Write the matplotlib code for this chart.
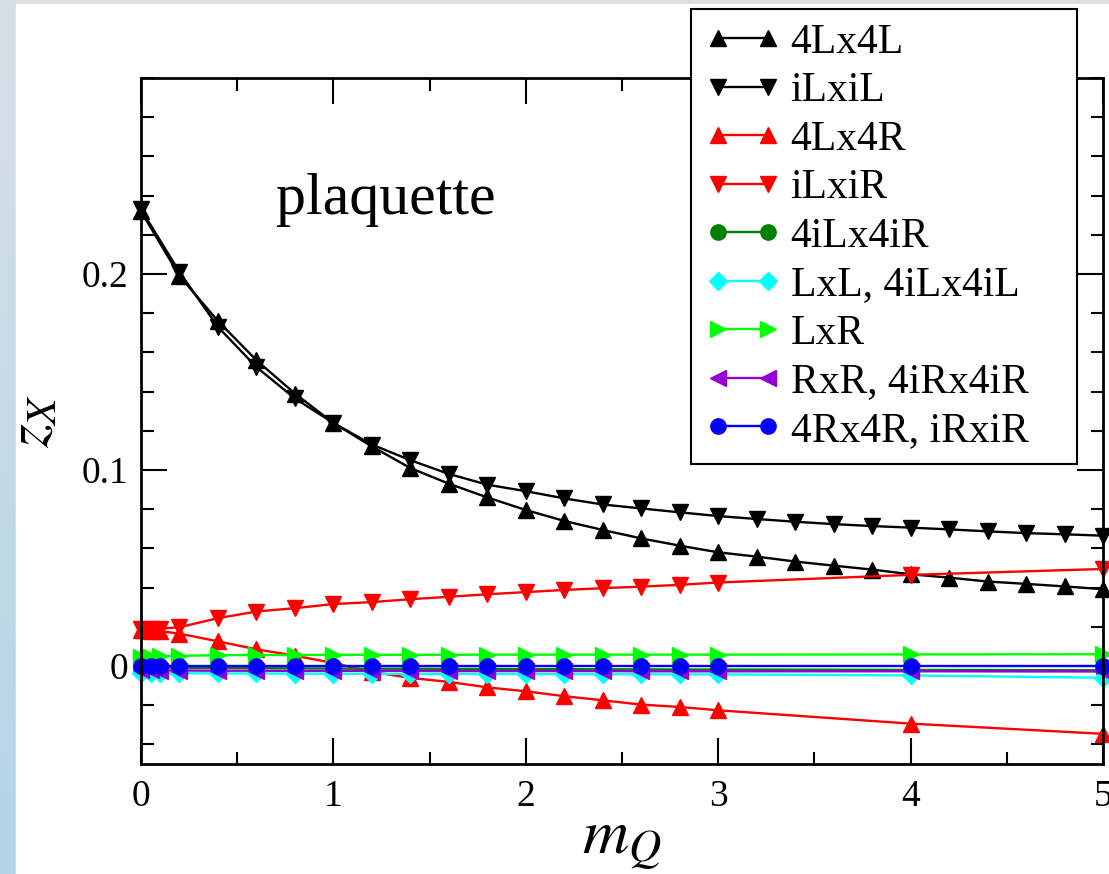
import numpy as np
import matplotlib
matplotlib.use('Agg')
import matplotlib.pyplot as plt
from matplotlib.colors import LinearSegmentedColormap
from matplotlib.patches import Rectangle
from matplotlib.ticker import MultipleLocator, FixedLocator, FixedFormatter

plt.rcParams['font.family'] = ['Liberation Serif', 'DejaVu Serif']
plt.rcParams['mathtext.fontset'] = 'stix'

# m_Q values (black curves sampled every 0.2)
x_black = [0.0, 0.2, 0.4, 0.6, 0.8, 1.0, 1.2, 1.4, 1.6, 1.8, 2.0, 2.2, 2.4,
           2.6, 2.8, 3.0, 3.2, 3.4, 3.6, 3.8, 4.0, 4.2, 4.4, 4.6, 4.8, 5.0]
z_4Lx4L = [0.232, 0.199, 0.176, 0.156, 0.139, 0.124, 0.112, 0.101, 0.093, 0.086,
           0.0796, 0.0740, 0.0694, 0.0651, 0.0614, 0.0580, 0.0558, 0.0533, 0.0512,
           0.0492, 0.0468, 0.0451, 0.0431, 0.0419, 0.0406, 0.0392]
z_iLxiL = [0.233, 0.201, 0.173, 0.1525, 0.1365, 0.124, 0.113, 0.105, 0.098, 0.0925,
           0.0892, 0.0855, 0.0824, 0.0804, 0.0784, 0.0765, 0.0750, 0.0736, 0.0724,
           0.0714, 0.0706, 0.0697, 0.0687, 0.0678, 0.0672, 0.0665]

# m_Q values for the other channels
x_other = [0.0, 0.05, 0.1, 0.2, 0.4, 0.6, 0.8, 1.0, 1.2, 1.4, 1.6, 1.8, 2.0,
           2.2, 2.4, 2.6, 2.8, 3.0, 4.0, 5.0]
z_4Lx4R = [0.0185, 0.018, 0.0178, 0.0165, 0.0126, 0.0085, 0.0053, 0.0015, -0.003,
           -0.0061, -0.0081, -0.0109, -0.0129, -0.0154, -0.0175, -0.0197, -0.0209,
           -0.0226, -0.0294, -0.0346]
z_iLxiR = [0.0188, 0.0188, 0.019, 0.0198, 0.0244, 0.0278, 0.0295, 0.0316, 0.0326,
           0.0341, 0.0353, 0.0366, 0.0377, 0.0388, 0.0397, 0.0405, 0.0414, 0.0426,
           0.0465, 0.0495]
z_4iLx4iR = [-0.0008, -0.0008, -0.0009, -0.0009, -0.001, -0.0011, -0.0012, -0.0013,
             -0.0014, -0.0014, -0.0015, -0.0015, -0.0016, -0.0016, -0.0017, -0.0017,
             -0.0018, -0.0018, -0.002, -0.0022]
z_LxL = [-0.0035, -0.0036, -0.0036, -0.0037, -0.0038, -0.0038, -0.0039, -0.004,
         -0.004, -0.004, -0.0041, -0.0041, -0.0041, -0.0042, -0.0042, -0.0042,
         -0.0043, -0.0043, -0.0048, -0.006]
z_LxR = [0.0045, 0.0048, 0.005, 0.0052, 0.0055, 0.0056, 0.0056, 0.0057, 0.0057,
         0.0057, 0.0057, 0.0058, 0.0058, 0.0058, 0.0058, 0.0058, 0.0058, 0.0058,
         0.0059, 0.006]
z_RxR = [-0.0022, -0.0022, -0.0023, -0.0023, -0.0024, -0.0024, -0.0025, -0.0025,
         -0.0025, -0.0025, -0.0026, -0.0026, -0.0026, -0.0026, -0.0026, -0.0027,
         -0.0027, -0.0027, -0.0027, -0.0028]
z_4Rx4R = [0.0, 0.0, 0.0, 0.0, 0.0, 0.0, 0.0, 0.0, 0.0, 0.0, 0.0, 0.0, 0.0, 0.0,
           0.0, 0.0, 0.0, 0.0, 0.0, 0.0]

series = [
    (x_black, z_4Lx4L, '4Lx4L', 'black', '^', 12),
    (x_black, z_iLxiL, 'iLxiL', 'black', 'v', 12),
    (x_other, z_4Lx4R, '4Lx4R', 'red', '^', 12),
    (x_other, z_iLxiR, 'iLxiR', 'red', 'v', 12),
    (x_other, z_4iLx4iR, '4iLx4iR', '#008000', 'o', 11),
    (x_other, z_LxL, 'LxL, 4iLx4iL', 'cyan', 'D', 9),
    (x_other, z_LxR, 'LxR', '#00ff00', '>', 12),
    (x_other, z_RxR, 'RxR, 4iRx4iR', '#9400d3', '<', 12),
    (x_other, z_4Rx4R, '4Rx4R, iRxiR', 'blue', 'o', 11),
]

W, H = 1109, 874
fig = plt.figure(figsize=(W / 100, H / 100), dpi=100)

# screenshot-like backdrop: bluish strip on the left, grey strip on top
bg = fig.add_axes([0, 0, 1, 1], zorder=-10)
bg.axis('off')
cmap = LinearSegmentedColormap.from_list('bg', ['#b2d5e8', '#d8e0e6'])
bg.imshow(np.linspace(0, 1, 256)[:, None], aspect='auto', cmap=cmap,
          extent=[0, 1, 0, 1], origin='lower')
bg.add_patch(Rectangle((16 / W, 0), 1, 1 - 4 / H, color='white',
                       transform=bg.transAxes))
bg.set_xlim(0, 1)
bg.set_ylim(0, 1)

ax = fig.add_axes([141 / W, 1 - 764 / H, 962 / W, 686 / H])
for x, y, lab, c, m, ms in series:
    ax.plot(x, y, color=c, marker=m, ms=ms, lw=1.7, label=lab, clip_on=False)

ax.set_xlim(0, 5)
ax.set_ylim(-0.05, 0.3)
ax.xaxis.set_major_locator(MultipleLocator(1))
ax.xaxis.set_minor_locator(MultipleLocator(0.5))
ax.yaxis.set_major_locator(FixedLocator([0, 0.1, 0.2]))
ax.yaxis.set_major_formatter(FixedFormatter(['0', '0.1', '0.2']))
ax.yaxis.set_minor_locator(MultipleLocator(0.02))
ax.tick_params(which='both', direction='in', top=True, right=True,
               width=1.5, labelsize=27)
ax.tick_params(which='major', length=19)
ax.tick_params(which='minor', length=9)
ax.tick_params(axis='x', pad=11)
ax.tick_params(axis='y', pad=9)
for s in ax.spines.values():
    s.set_linewidth(2)

ax.set_xlabel('$m_Q$', fontsize=46, labelpad=0)
ax.set_ylabel('$z_X$', fontsize=44)
ax.yaxis.set_label_coords(-0.082, 0.5)

ax.text(1.27, 0.238, 'plaquette', ha='center', va='center', fontsize=43)

leg = ax.legend(loc='upper left',
                bbox_to_anchor=(691 / W, 1 - 462 / H, 386 / W, 453 / H),
                bbox_transform=fig.transFigure, mode='expand', borderaxespad=0,
                fontsize=30, numpoints=2, handlelength=1.8, handletextpad=0.25,
                labelspacing=0.24, borderpad=0.34, fancybox=False,
                framealpha=1, edgecolor='black')
leg.get_frame().set_linewidth(1.5)

fig.savefig('out.png', dpi=100)
